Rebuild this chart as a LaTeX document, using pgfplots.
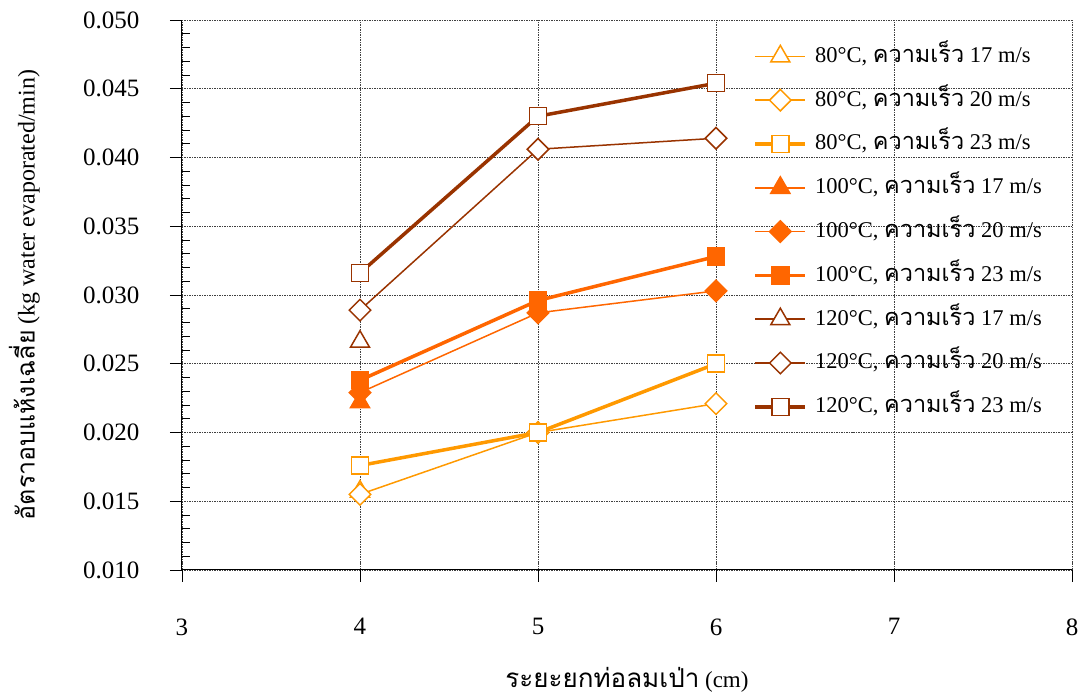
\documentclass[border=0pt]{standalone}
\usepackage{fontspec}
\setmainfont{Liberation Serif}
\newfontfamily\thai[Script=Thai]{Loma}
\usepackage{pgfplots}
\pgfplotsset{compat=1.18}
\definecolor{cA}{HTML}{FF9900}
\definecolor{cB}{HTML}{FF6600}
\definecolor{cC}{HTML}{993300}
\newcommand\bigf{\fontsize{25bp}{30bp}\selectfont}
\newcommand\legf{\fontsize{22.5bp}{27bp}\selectfont}
\newcommand\kv{{\fontsize{23.5bp}{27bp}\selectfont\thai ความเร็ว}}
\begin{document}
\bigf
\begin{tikzpicture}
\begin{axis}[
  name=ax, scale only axis, width=890bp, height=550bp,
  xmin=3, xmax=8, ymin=0.010, ymax=0.050,
  xtick={3,4,5,6,7,8},
  ytick={0.010,0.015,0.020,0.025,0.030,0.035,0.040,0.045,0.050},
  minor y tick num=4,
  axis x line=bottom, axis y line=left,
  axis line style={-, black, line width=1bp},
  grid=major, major grid style={densely dotted, black!75, line width=0.9bp},
  tick align=outside, major tick length=12bp, minor tick length=8bp,
  minor tick style={xshift=8bp},
  tick style={black, line width=0.9bp},
  scaled y ticks=false,
  yticklabel style={/pgf/number format/.cd, fixed, fixed zerofill, precision=3, /tikz/.cd, xshift=-22bp},
  xticklabel style={yshift=-28bp},
  /pgf/number format/assume math mode=true,
  ticklabel style={font=\bigf},
  xlabel={{\fontsize{26bp}{30bp}\selectfont\thai ระยะยกท่อลมเป่า} (cm)},
  ylabel={{\fontsize{25bp}{30bp}\selectfont\thai อัตราอบแห้งเฉลี่ย} (kg water evaporated/min)},
  every axis x label/.style={at={(axis description cs:0.5,-0.2)}, anchor=center, font=\fontsize{23bp}{28bp}\selectfont},
  every axis y label/.style={at={(axis description cs:-0.177,0.5)}, anchor=center, rotate=90, font=\fontsize{24bp}{28bp}\selectfont},
  legend style={at={(axis description cs:0.642,0.956)}, anchor=north west, draw=none, fill=none, inner sep=0pt, row sep=19.8bp, font=\legf,
    nodes={inner sep=0pt, text height=18bp, text depth=6bp},
    /tikz/every odd column/.append style={column sep=8bp}},
  legend cell align=left,
  legend image code/.code={\draw[mark repeat=2, mark phase=2] plot coordinates {(0bp,0bp) (25bp,0bp) (50bp,0bp)};},
  thin/.style={line width=1.5bp},
  thick/.style={line width=3.5bp},
  tri/.style={mark=triangle*, mark size=11bp},
  dia/.style={mark=square*, mark size=7.6bp},
  sq/.style={mark=square*, mark size=8.5bp},
]
% 80 C
\addplot[cA, thin, tri, mark options={solid, fill=white, line width=1.5bp}] coordinates {(4,0.0157)};
\addlegendentry{80°C, \kv{} 17 m/s}
\addplot[cA, thin, dia, mark options={solid, fill=white, line width=1.5bp, rotate=45}] coordinates {(4,0.0155) (5,0.0200) (6,0.0221)};
\addlegendentry{80°C, \kv{} 20 m/s}
\addplot[cA, thick, sq, mark options={solid, fill=white, line width=1.5bp}] coordinates {(4,0.0176) (5,0.0200) (6,0.0250)};
\addlegendentry{80°C, \kv{} 23 m/s}
% 100 C
\addplot[cB, thin, tri, mark options={solid, fill=cB, line width=1.5bp}] coordinates {(4,0.0222)};
\addlegendentry{100°C, \kv{} 17 m/s}
\addplot[cB, thin, dia, mark options={solid, fill=cB, line width=1.5bp, rotate=45}] coordinates {(4,0.0229) (5,0.0287) (6,0.0303)};
\addlegendentry{100°C, \kv{} 20 m/s}
\addplot[cB, thick, sq, mark options={solid, fill=cB, line width=1.5bp}] coordinates {(4,0.0238) (5,0.0296) (6,0.0328)};
\addlegendentry{100°C, \kv{} 23 m/s}
% 120 C
\addplot[cC, thin, tri, mark options={solid, fill=white, line width=1.5bp}] coordinates {(4,0.0266)};
\addlegendentry{120°C, \kv{} 17 m/s}
\addplot[cC, thin, dia, mark options={solid, fill=white, line width=1.5bp, rotate=45}] coordinates {(4,0.0289) (5,0.0406) (6,0.0414)};
\addlegendentry{120°C, \kv{} 20 m/s}
\addplot[cC, thick, sq, mark options={solid, fill=white, line width=1.5bp}] coordinates {(4,0.0316) (5,0.0430) (6,0.0454)};
\addlegendentry{120°C, \kv{} 23 m/s}
\end{axis}
\pgfresetboundingbox
\path ([shift={(-182bp,-130bp)}]ax.south west) rectangle ([shift={(12bp,20bp)}]ax.north east);
\end{tikzpicture}
\end{document}
